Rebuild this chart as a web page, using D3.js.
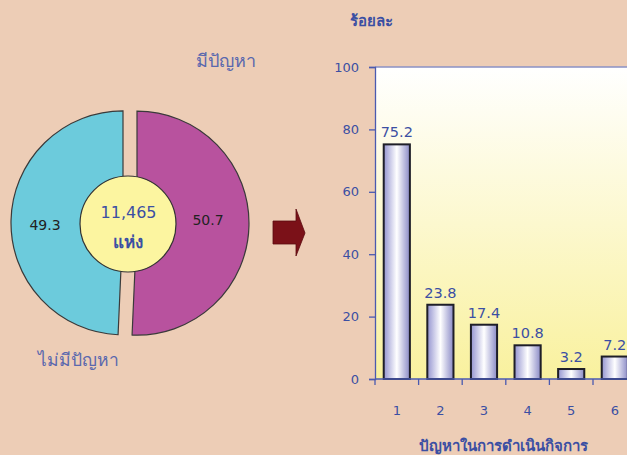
<!DOCTYPE html>
<html><head><meta charset="utf-8">
<script src="https://cdn.jsdelivr.net/npm/d3@7/dist/d3.min.js"></script>
<style>body{margin:0;background:#EDCDB6;}svg{display:block;}</style>
</head><body>
<svg id="c" width="627" height="455"></svg>
<script>
// ---- data ----
const pieLabels = ["มีปัญหา", "ไม่มีปัญหา"];
const pieValues = [50.7, 49.3];
const pieColors = ["#B8529E", "#6CCBDC"];
const totalText = "11,465";
const unitText = "แห่ง";
const barCategories = ["1", "2", "3", "4", "5", "6"];
const barValues = [75.2, 23.8, 17.4, 10.8, 3.2, 7.2];
const yTicks = [0, 20, 40, 60, 80, 100];
const yTitle = "ร้อยละ";
const xTitle = "ปัญหาในการดำเนินกิจการ";

(function () {
const svg = d3.select("#c");
const FONT = "Tahoma, 'DejaVu Sans', sans-serif";
const BLUE = "#3B4FA3";
const defs = svg.append("defs");

svg.append("rect").attr("width", 627).attr("height", 455).attr("fill", "#EDCDB6");

// ---- pie ----
const cx = 130, cy = 223, R = 112, explode = 7;
const pie = d3.pie().sort(null).value(d => d)(pieValues);
const arc = d3.arc().innerRadius(0).outerRadius(R);
const pg = svg.append("g").attr("transform", `translate(${cx},${cy})`);
pg.selectAll("path").data(pie).join("path")
  .attr("d", arc)
  .attr("transform", d => {
    const a = (d.startAngle + d.endAngle) / 2;
    return `translate(${Math.sin(a) * explode},${-Math.cos(a) * explode})`;
  })
  .attr("fill", (d, i) => pieColors[i])
  .attr("stroke", "#3a3a3a").attr("stroke-width", 1.2);

pg.append("circle").attr("cx", -2).attr("cy", 1).attr("r", 48)
  .attr("fill", "#FCF5A0").attr("stroke", "#333").attr("stroke-width", 1.2);
pg.append("text").attr("x", -1.5).attr("y", -5).attr("text-anchor", "middle")
  .attr("font-family", FONT).attr("font-size", 16).attr("fill", BLUE).text(totalText);
pg.append("text").attr("x", -2).attr("y", 25).attr("text-anchor", "middle")
  .attr("font-family", FONT).attr("font-size", 17).attr("font-weight", "bold").attr("fill", BLUE).text(unitText);

const valPos = [[78, 2], [-85, 7]];
pie.forEach((d, i) => {
  pg.append("text").attr("x", valPos[i][0]).attr("y", valPos[i][1]).attr("text-anchor", "middle")
    .attr("font-family", FONT).attr("font-size", 14).attr("fill", "#222").text(pieValues[i]);
});
svg.append("text").attr("x", 226).attr("y", 67).attr("text-anchor", "middle")
  .attr("font-family", FONT).attr("font-size", 18).attr("fill", "#5A68AE").text(pieLabels[0]);
svg.append("text").attr("x", 78).attr("y", 366).attr("text-anchor", "middle")
  .attr("font-family", FONT).attr("font-size", 17.5).attr("fill", "#5A68AE").text(pieLabels[1]);

// ---- arrow ----
svg.append("path")
  .attr("d", "M273,221 L296,221 L296,209 L305,233 L296,256 L296,244 L273,244 Z")
  .attr("fill", "#7B1118").attr("stroke", "#5a0a10").attr("stroke-width", 0.8);

// ---- bar chart ----
const pLeft = 375, pTop = 67, pBottom = 379, step = 43.6;
const y = d3.scaleLinear().domain([0, 100]).range([pBottom, pTop]);
const x = d3.scaleBand().domain(barCategories).range([pLeft, pLeft + step * barCategories.length]).padding(0);

const bg = defs.append("linearGradient").attr("id", "bgGrad").attr("x1", 0).attr("y1", 0).attr("x2", 0).attr("y2", 1);
bg.append("stop").attr("offset", "0%").attr("stop-color", "#FFFFFF");
bg.append("stop").attr("offset", "100%").attr("stop-color", "#F9F19E");
svg.append("rect").attr("x", pLeft).attr("y", pTop).attr("width", 627 - pLeft).attr("height", pBottom - pTop)
  .attr("fill", "url(#bgGrad)");
svg.append("line").attr("x1", pLeft).attr("x2", 627).attr("y1", pTop).attr("y2", pTop)
  .attr("stroke", "#8A90C4").attr("stroke-width", 1.5);

const barGrad = defs.append("linearGradient").attr("id", "barGrad").attr("x1", 0).attr("y1", 0).attr("x2", 1).attr("y2", 0);
barGrad.append("stop").attr("offset", "0%").attr("stop-color", "#9494D0");
barGrad.append("stop").attr("offset", "50%").attr("stop-color", "#FFFFFF");
barGrad.append("stop").attr("offset", "100%").attr("stop-color", "#8A8AC6");

const bw = x.bandwidth() * 0.6;
svg.selectAll("rect.bar").data(barValues).join("rect").attr("class", "bar")
  .attr("x", (d, i) => x(barCategories[i]) + (x.bandwidth() - bw) / 2)
  .attr("y", d => y(d))
  .attr("width", bw)
  .attr("height", d => pBottom - y(d))
  .attr("fill", "url(#barGrad)").attr("stroke", "#1E1E28").attr("stroke-width", 2);

svg.selectAll("text.val").data(barValues).join("text").attr("class", "val")
  .attr("x", (d, i) => x(barCategories[i]) + x.bandwidth() / 2)
  .attr("y", d => y(d) - 7)
  .attr("text-anchor", "middle").attr("font-family", FONT).attr("font-size", 14.5).attr("fill", BLUE)
  .text(d => d.toFixed(1));

const ya = svg.append("g").attr("transform", `translate(${pLeft},0)`)
  .call(d3.axisLeft(y).tickValues(yTicks).tickSize(6).tickPadding(10));
ya.select(".domain").attr("stroke", "#4A5AB0").attr("stroke-width", 1.3);
ya.selectAll(".tick line").attr("stroke", "#4A5AB0").attr("stroke-width", 1.3);
ya.selectAll(".tick text").attr("font-family", FONT).attr("font-size", 13).attr("fill", BLUE);

const xa = svg.append("g").attr("transform", `translate(0,${pBottom})`);
xa.append("line").attr("x1", pLeft).attr("x2", 627).attr("stroke", "#4A5AB0").attr("stroke-width", 1.5);
xa.selectAll("line.tk").data(barCategories).join("line").attr("class", "tk")
  .attr("x1", d => x(d)).attr("x2", d => x(d)).attr("y1", 0).attr("y2", 6)
  .attr("stroke", "#4A5AB0").attr("stroke-width", 1.3);
xa.selectAll("text").data(barCategories).join("text")
  .attr("x", d => x(d) + x.bandwidth() / 2).attr("y", 36)
  .attr("text-anchor", "middle").attr("font-family", FONT).attr("font-size", 13).attr("fill", BLUE).text(d => d);

svg.append("text").attr("x", 371).attr("y", 26).attr("text-anchor", "middle")
  .attr("font-family", FONT).attr("font-size", 15).attr("font-weight", "bold").attr("fill", BLUE).text(yTitle);
svg.append("text").attr("x", 503).attr("y", 451).attr("text-anchor", "middle")
  .attr("font-family", FONT).attr("font-size", 15).attr("font-weight", "bold").attr("fill", BLUE).text(xTitle);
})();
</script>
</body></html>
